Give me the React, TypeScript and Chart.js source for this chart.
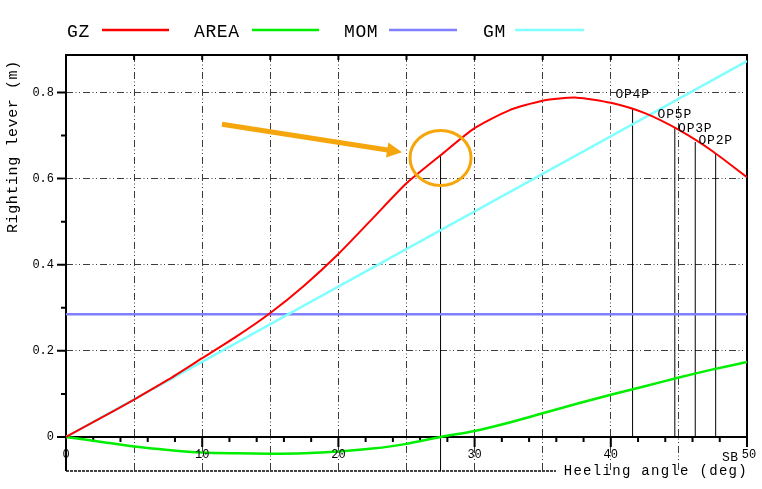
import React, { useEffect, useRef } from 'react';
import { Chart, registerables } from 'chart.js';

Chart.register(...registerables);

// ---- data ----
const heelAngles = [0, 2.5, 5, 7.5, 10, 12.5, 15, 17.5, 20, 22.5, 25, 27.5, 30, 32.5, 35, 37.5, 40, 42.5, 45, 47.5, 50];
const gzValues = [0, 0.043, 0.087, 0.133, 0.183, 0.233, 0.288, 0.352, 0.425, 0.507, 0.589, 0.654, 0.717, 0.758, 0.781, 0.788, 0.776, 0.752, 0.713, 0.663, 0.603];
const areaValues = [0, -0.011, -0.022, -0.03, -0.036, -0.038, -0.039, -0.038, -0.034, -0.027, -0.016, 0, 0.014, 0.033, 0.055, 0.077, 0.098, 0.118, 0.138, 0.157, 0.174];
const momAngles = [0, 50];
const momValues = [0.285, 0.285];
const gmAngles = [0, 50];
const gmValues = [0, 0.873];

const markerNames = ['', 'OP4P', 'OP5P', 'OP3P', 'OP2P'];
const markerAngles = [27.5, 41.6, 44.7, 46.2, 47.7];
const markerTops = [0.654, 0.764, 0.718, 0.685, 0.658];
const markerBottoms = [-0.079, 0, 0, 0, 0];

const X_MIN = 0;
const X_MAX = 50;
const Y_MIN = -0.079;
const Y_MAX = 0.887;

const xGridValues = [5, 10, 15, 20, 25, 30, 35, 40, 45];
const yGridValues = [0.2, 0.4, 0.6, 0.8];
const xMinorTicks = [2, 4, 6, 8, 12, 14, 16, 18, 22, 24, 26, 28, 32, 34, 36, 38, 42, 44, 46, 48];
const xMajorTicks = [0, 10, 20, 30, 40, 50];
const xTickLabels = ['0', '10', '20', '30', '40', '50'];
const topTicks = [5, 10, 15, 20, 25, 30, 35, 40, 45];
const yMinorTicks = [0.1, 0.3, 0.5, 0.7];
const yMajorTicks = [0, 0.2, 0.4, 0.6, 0.8];
const yTickLabels = ['0', '0.2', '0.4', '0.6', '0.8'];

const legendNames = ['GZ', 'AREA', 'MOM', 'GM'];
const legendColors = ['#ff0000', '#00ee00', '#7f7fff', '#7fffff'];

// annotation (data coordinates)
const arrowFrom = { x: 11.45, y: 0.726 };
const arrowTo = { x: 24.67, y: 0.661 };
const circleCenter = { x: 27.5, y: 0.648 };

const FONT = '"Liberation Mono", "DejaVu Sans Mono", monospace';
const GRID_DASH = [7, 2.5, 1, 2.5, 1, 3];

const toPts = (xs: number[], ys: number[]) => xs.map((x, i) => ({ x, y: ys[i] }));

const decorPlugin = {
  id: 'decor',
  beforeDatasetsDraw(chart: any) {
    const { ctx, chartArea: a, scales } = chart;
    const x = scales.x;
    const y = scales.y;
    const y0 = y.getPixelForValue(0);
    ctx.save();
    ctx.lineCap = 'butt';
    // bottom border
    ctx.lineWidth = 2;
    ctx.strokeStyle = '#444';
    ctx.setLineDash([3, 1]);
    ctx.beginPath();
    ctx.moveTo(a.left, a.bottom);
    ctx.lineTo(556, a.bottom);
    ctx.stroke();
    ctx.setLineDash([]);
    ctx.strokeStyle = '#000';
    ctx.lineWidth = 2;
    // left axis, top border, right border
    ctx.beginPath();
    ctx.moveTo(a.left, a.bottom);
    ctx.lineTo(a.left, a.top);
    ctx.lineTo(a.right, a.top);
    ctx.lineTo(a.right, y0 + 10);
    ctx.stroke();
    // x axis at y=0
    ctx.beginPath();
    ctx.moveTo(a.left, y0);
    ctx.lineTo(a.right, y0);
    ctx.stroke();
    // ticks
    ctx.beginPath();
    xMinorTicks.forEach((v) => {
      const px = x.getPixelForValue(v);
      ctx.moveTo(px, y0);
      ctx.lineTo(px, y0 + 5);
    });
    xMajorTicks.forEach((v) => {
      const px = x.getPixelForValue(v);
      ctx.moveTo(px, y0);
      ctx.lineTo(px, y0 + 10);
    });
    topTicks.forEach((v) => {
      const px = x.getPixelForValue(v);
      ctx.moveTo(px, a.top);
      ctx.lineTo(px, a.top + 5);
    });
    yMinorTicks.forEach((v) => {
      const py = y.getPixelForValue(v);
      ctx.moveTo(a.left, py);
      ctx.lineTo(a.left - 5, py);
    });
    yMajorTicks.forEach((v) => {
      const py = y.getPixelForValue(v);
      ctx.moveTo(a.left, py);
      ctx.lineTo(a.left - 9, py);
    });
    ctx.stroke();
    ctx.restore();
  },
  afterDraw(chart: any) {
    const { ctx, chartArea: a, scales } = chart;
    const x = scales.x;
    const y = scales.y;
    const y0 = y.getPixelForValue(0);
    ctx.save();
    ctx.fillStyle = '#000';
    // x labels
    ctx.font = `12px ${FONT}`;
    ctx.textAlign = 'center';
    ctx.textBaseline = 'middle';
    xMajorTicks.forEach((v, i) => {
      ctx.fillText(xTickLabels[i], x.getPixelForValue(v) + (i === xMajorTicks.length - 1 ? 2 : 0), y0 + 18);
    });
    // y labels
    ctx.textAlign = 'right';
    yMajorTicks.forEach((v, i) => {
      ctx.fillText(yTickLabels[i], a.left - 12, y.getPixelForValue(v));
    });
    // SB
    ctx.textAlign = 'left';
    ctx.textBaseline = 'alphabetic';
    ctx.font = `13px ${FONT}`;
    (ctx as any).letterSpacing = '0.5px';
    ctx.fillText('SB', a.right - 25, y0 + 24);
    // marker labels
    (ctx as any).letterSpacing = '0.8px';
    ctx.textAlign = 'center';
    markerNames.forEach((name, i) => {
      if (!name) return;
      ctx.fillText(name, x.getPixelForValue(markerAngles[i]), y.getPixelForValue(markerTops[i]) - 9.5);
    });
    // x title
    ctx.font = `14px ${FONT}`;
    (ctx as any).letterSpacing = '1.3px';
    ctx.textAlign = 'right';
    ctx.fillText('Heeling angle (deg)', a.right + 1, a.bottom + 4);
    // y title
    ctx.save();
    ctx.font = `15px ${FONT}`;
    (ctx as any).letterSpacing = '0.6px';
    ctx.translate(13, 233);
    ctx.rotate(-Math.PI / 2);
    ctx.textAlign = 'left';
    ctx.textBaseline = 'middle';
    ctx.fillText('Righting lever (m)', 0, 0);
    ctx.restore();
    // legend
    ctx.font = `18px ${FONT}`;
    (ctx as any).letterSpacing = '0.6px';
    ctx.textAlign = 'left';
    ctx.textBaseline = 'alphabetic';
    const legendX = [67, 194, 344, 483];
    const lineX = [[102, 169], [252, 319], [389, 457], [515, 584]];
    legendNames.forEach((name, i) => {
      ctx.fillStyle = '#000';
      ctx.fillText(name, legendX[i], 37);
      ctx.strokeStyle = legendColors[i];
      ctx.lineWidth = 2.5;
      ctx.beginPath();
      ctx.moveTo(lineX[i][0], 30);
      ctx.lineTo(lineX[i][1], 30);
      ctx.stroke();
    });
    (ctx as any).letterSpacing = '0px';
    // annotation: arrow
    const orange = '#f5a60c';
    const fx = x.getPixelForValue(arrowFrom.x);
    const fy = y.getPixelForValue(arrowFrom.y);
    const tx = x.getPixelForValue(arrowTo.x);
    const ty = y.getPixelForValue(arrowTo.y);
    const ang = Math.atan2(ty - fy, tx - fx);
    const headLen = 15;
    const headHalf = 7.5;
    const bx = tx - headLen * Math.cos(ang);
    const by = ty - headLen * Math.sin(ang);
    ctx.strokeStyle = orange;
    ctx.fillStyle = orange;
    ctx.lineWidth = 5;
    ctx.lineCap = 'butt';
    ctx.beginPath();
    ctx.moveTo(fx, fy);
    ctx.lineTo(bx + 2 * Math.cos(ang), by + 2 * Math.sin(ang));
    ctx.stroke();
    ctx.beginPath();
    ctx.moveTo(tx, ty);
    ctx.lineTo(bx - headHalf * Math.sin(ang), by + headHalf * Math.cos(ang));
    ctx.lineTo(bx + headHalf * Math.sin(ang), by - headHalf * Math.cos(ang));
    ctx.closePath();
    ctx.fill();
    // circle
    ctx.lineWidth = 3;
    ctx.beginPath();
    ctx.ellipse(x.getPixelForValue(circleCenter.x), y.getPixelForValue(circleCenter.y), 30.5, 27.5, 0, 0, Math.PI * 2);
    ctx.stroke();
    ctx.restore();
  },
};

export default function App() {
  const canvasRef = useRef<HTMLCanvasElement | null>(null);

  useEffect(() => {
    document.body.style.margin = '0';
    const canvas = canvasRef.current;
    if (!canvas) return;
    const markerSets = markerAngles.map((ang, i) => ({
      label: markerNames[i] || 'marker',
      data: [
        { x: ang, y: markerBottoms[i] },
        { x: ang, y: markerTops[i] },
      ],
      borderColor: '#000',
      borderWidth: 1,
      pointRadius: 0,
      order: 5,
    }));
    const chart = new Chart(canvas, {
      type: 'line',
      data: {
        datasets: [
          ...markerSets,
          {
            label: 'MOM',
            data: toPts(momAngles, momValues),
            borderColor: legendColors[2],
            borderWidth: 2.5,
            pointRadius: 0,
            order: 4,
          },
          {
            label: 'GM',
            data: toPts(gmAngles, gmValues),
            borderColor: legendColors[3],
            borderWidth: 2.5,
            pointRadius: 0,
            order: 3,
          },
          {
            label: 'AREA',
            data: toPts(heelAngles, areaValues),
            borderColor: legendColors[1],
            borderWidth: 2.5,
            pointRadius: 0,
            tension: 0.25,
            order: 2,
          },
          {
            label: 'GZ',
            data: toPts(heelAngles, gzValues),
            borderColor: legendColors[0],
            borderWidth: 2,
            pointRadius: 0,
            tension: 0.22,
            order: 1,
          },
        ] as any,
      },
      options: {
        animation: false,
        responsive: false,
        devicePixelRatio: 1,
        layout: { padding: { left: 66, top: 55, right: 15, bottom: 18 } },
        plugins: { legend: { display: false }, tooltip: { enabled: false } },
        scales: {
          x: {
            type: 'linear',
            min: X_MIN,
            max: X_MAX,
            ticks: { display: false },
            border: { display: false, dash: GRID_DASH },
            grid: { color: '#3c3c3c', lineWidth: 1, drawTicks: false },
            afterBuildTicks: (s: any) => {
              s.ticks = xGridValues.map((v) => ({ value: v }));
            },
            afterFit: (s: any) => {
              s.height = 0;
            },
          },
          y: {
            type: 'linear',
            min: Y_MIN,
            max: Y_MAX,
            ticks: { display: false },
            border: { display: false, dash: GRID_DASH },
            grid: { color: '#3c3c3c', lineWidth: 1, drawTicks: false },
            afterBuildTicks: (s: any) => {
              s.ticks = yGridValues.map((v) => ({ value: v }));
            },
            afterFit: (s: any) => {
              s.width = 0;
            },
          },
        },
      } as any,
      plugins: [decorPlugin],
    });
    return () => chart.destroy();
  }, []);

  return (
    <div style={{ position: 'fixed', left: 0, top: 0, width: 762, height: 489, background: '#fff' }}>
      <canvas ref={canvasRef} width={762} height={489} style={{ width: 762, height: 489, display: 'block' }} />
    </div>
  );
}
